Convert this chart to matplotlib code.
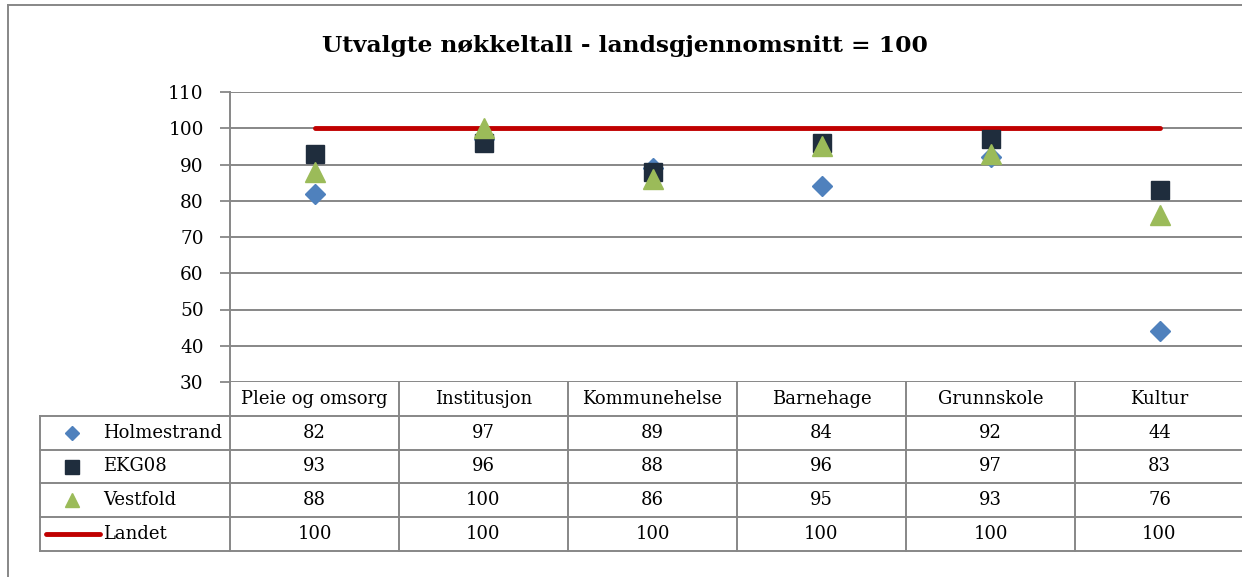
import numpy as np
import matplotlib
matplotlib.use("Agg")
import matplotlib.pyplot as plt
import matplotlib.transforms as mtransforms
from matplotlib.lines import Line2D

# Values
categories = ["Pleie og omsorg", "Institusjon", "Kommunehelse", "Barnehage", "Grunnskole", "Kultur"]
holmestrand = [82, 97, 89, 84, 92, 44]
ekg08 = [93, 96, 88, 96, 97, 83]
vestfold = [88, 100, 86, 95, 93, 76]
landet = [100, 100, 100, 100, 100, 100]

series_names = ["Holmestrand", "EKG08", "Vestfold", "Landet"]
series_vals = [holmestrand, ekg08, vestfold, landet]
y_ticks = [30, 40, 50, 60, 70, 80, 90, 100, 110]

col_blue = "#4F81BD"
col_navy = "#1F2D3D"
col_green = "#9BBB59"
col_red = "#C00000"
grid_col = "#878787"

plt.rcParams['font.family'] = ['DejaVu Serif']
FS = 13

W, H = 1242, 577
fig = plt.figure(figsize=(W / 100, H / 100), dpi=100)

# plot area in pixels
left_px, right_px, top_px, bot_px = 230, 1244, 92, 382
ax = fig.add_axes([left_px / W, 1 - bot_px / H, (right_px - left_px) / W, (bot_px - top_px) / H])

x = np.arange(len(categories))
ax.set_xlim(-0.5, len(categories) - 0.5)
ax.set_ylim(30, 110)
ax.set_yticks(y_ticks)
ax.set_xticks([])
ax.tick_params(axis='y', length=7, width=1.3, color=grid_col, labelsize=13.3, pad=12)
ax.yaxis.grid(True, color=grid_col, linewidth=1.4)
ax.set_axisbelow(True)
for s in ["top", "right", "bottom"]:
    ax.spines[s].set_visible(False)
ax.spines["left"].set_color(grid_col)
ax.spines["left"].set_linewidth(1.4)

ax.plot(x, landet, color=col_red, linewidth=3.5, solid_capstyle='round', zorder=3)
ax.plot(x, holmestrand, linestyle='none', marker='D', markersize=10, color=col_blue, zorder=4)
ax.plot(x, ekg08, linestyle='none', marker='s', markersize=13.5, color=col_navy, zorder=5)
ax.plot(x, vestfold, linestyle='none', marker='^', markersize=14.5, color=col_green, zorder=6)

fig.text(625 / W, 1 - 46 / H, "Utvalgte nøkkeltall - landsgjennomsnitt = 100",
         ha='center', va='center', fontsize=16.8, fontweight='bold')

# data table below the plot area: x in data units, y in axes units
row_h = 33.8 / (bot_px - top_px)
trans = mtransforms.blended_transform_factory(ax.transData, ax.transAxes)
leg_left = (40 - left_px) / (right_px - left_px)
n_rows = 1 + len(series_names)
y_bottom = -n_rows * row_h

line_kw = dict(color=grid_col, linewidth=1.4, clip_on=False)
# vertical lines between category columns
for b in np.arange(len(categories) + 1) - 0.5:
    ax.add_line(Line2D([b, b], [0, y_bottom], transform=trans, **line_kw))
ax.add_line(Line2D([leg_left, leg_left], [-row_h, y_bottom], transform=ax.transAxes, **line_kw))
# horizontal lines
for r in range(1, n_rows + 1):
    ax.add_line(Line2D([leg_left, 1], [-r * row_h, -r * row_h], transform=ax.transAxes, **line_kw))

for i, c in enumerate(categories):
    ax.text(i, -0.5 * row_h, c, transform=trans, ha='center', va='center', fontsize=FS)

markers = [('D', col_blue, 7), ('s', col_navy, 10), ('^', col_green, 9.5)]
name_x = (103 - left_px) / (right_px - left_px)
mark_x = (72 - left_px) / (right_px - left_px)
for r, (name, vals) in enumerate(zip(series_names, series_vals)):
    yc = -(r + 1.5) * row_h
    ax.text(name_x, yc, name, transform=ax.transAxes, ha='left', va='center', fontsize=FS)
    if r < 3:
        m, c, ms = markers[r]
        ax.plot([mark_x], [yc], transform=ax.transAxes, marker=m, color=c,
                markersize=ms, linestyle='none', clip_on=False)
    else:
        lx0 = (46 - left_px) / (right_px - left_px)
        lx1 = (100 - left_px) / (right_px - left_px)
        ax.add_line(Line2D([lx0, lx1], [yc, yc], transform=ax.transAxes, color=col_red,
                           linewidth=3.5, solid_capstyle='round', clip_on=False))
    for i, v in enumerate(vals):
        ax.text(i, yc, str(v), transform=trans, ha='center', va='center', fontsize=FS)

# outer chart frame (left and top edges visible in the crop)
fig.add_artist(Line2D([7.5 / W, 7.5 / W], [0, 1 - 5 / H], transform=fig.transFigure,
                      color=grid_col, linewidth=1.4))
fig.add_artist(Line2D([7.5 / W, 1], [1 - 5 / H, 1 - 5 / H], transform=fig.transFigure,
                      color=grid_col, linewidth=1.4))

fig.savefig("out.png", dpi=100)
